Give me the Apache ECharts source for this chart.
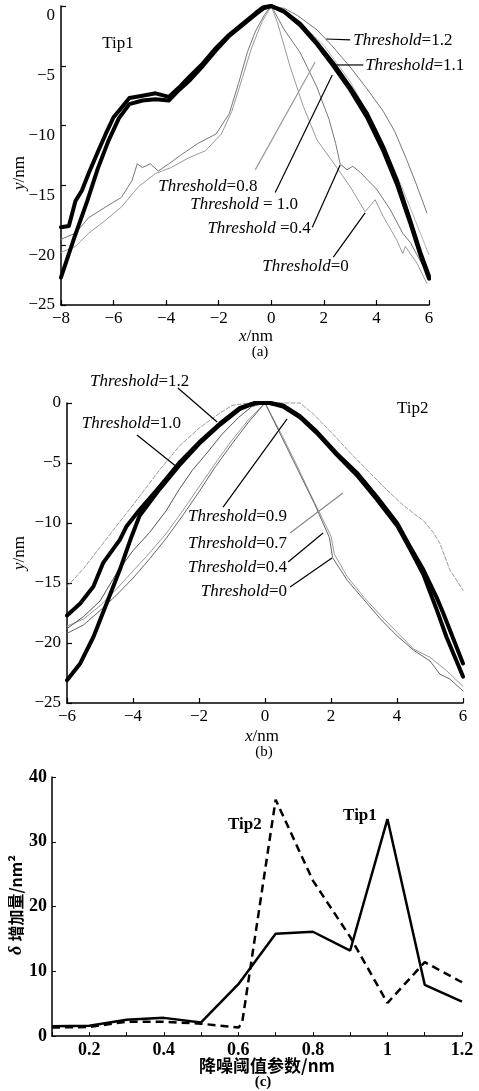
<!DOCTYPE html>
<html><head><meta charset="utf-8">
<script src="https://cdn.jsdelivr.net/npm/echarts@6/dist/echarts.min.js"></script>
<style>html,body{margin:0;padding:0;background:#fff}#c{width:479px;height:1091px}</style>
</head><body><div id="c"></div>
<script>
// ---------- Panel (a) Tip1 profiles ----------
const aThick12 = [[-8,-18.5],[-7.7,-18.4],[-7.45,-16.3],[-7.2,-15.4],[-6.95,-14.0],[-6.6,-12.2],[-6.3,-10.7],[-6.0,-9.3],[-5.7,-8.5],[-5.4,-7.7],[-4.9,-7.5],[-4.4,-7.3],[-3.9,-7.6],[-3.5,-6.8],[-3.15,-6.0],[-2.6,-4.8],[-2.1,-3.5],[-1.6,-2.4],[-1.1,-1.5],[-0.6,-0.6],[-0.3,-0.1],[0,0],[0.45,-0.4],[1.1,-1.5],[1.74,-3.1],[2.36,-4.8],[3.0,-6.8],[3.64,-9.0],[4.26,-11.8],[4.78,-14.6],[5.28,-17.9],[5.67,-20.6],[6.0,-22.6]];
const aThick11 = [[-8,-22.7],[-7.5,-19.4],[-7.0,-16.3],[-6.6,-13.6],[-6.2,-11.3],[-5.8,-9.4],[-5.4,-8.2],[-4.9,-7.9],[-4.4,-7.8],[-3.9,-7.9],[-3.5,-7.0],[-3.1,-6.2],[-2.6,-5.0],[-2.1,-3.7],[-1.6,-2.5],[-1.1,-1.6],[-0.6,-0.7],[-0.3,-0.2],[0,0],[0.5,-0.5],[1.1,-1.6],[1.74,-3.2],[2.36,-5.0],[3.0,-7.0],[3.64,-9.3],[4.26,-12.1],[4.78,-14.9],[5.28,-18.1],[5.67,-20.8],[6.0,-22.8]];
const aThin04 = [[-8,-19.5],[-7.45,-19.0],[-6.95,-17.7],[-6.3,-16.8],[-5.7,-16.0],[-5.3,-14.6],[-5.1,-13.2],[-4.9,-13.5],[-4.6,-13.2],[-4.3,-13.8],[-3.9,-13.2],[-3.4,-12.4],[-2.8,-11.5],[-2.1,-10.7],[-1.6,-9.0],[-1.25,-6.5],[-0.9,-3.8],[-0.6,-2.1],[-0.25,-0.7],[0,0],[0.5,-2.0],[1.1,-3.9],[1.74,-6.8],[2.2,-9.5],[2.45,-11.5],[2.62,-13.2],[2.88,-13.7],[3.1,-13.4],[3.38,-13.9],[4.0,-15.3],[4.52,-17.0],[5.0,-19.0],[5.3,-19.8],[5.54,-20.8],[6.0,-22.6]];
const aThin0 = [[-8,-20.6],[-7.45,-20.1],[-6.95,-19.0],[-6.3,-17.9],[-5.7,-16.8],[-5.05,-15.1],[-4.4,-14.0],[-3.8,-13.5],[-3.15,-12.7],[-2.5,-12.1],[-1.9,-10.7],[-1.5,-8.8],[-1.1,-6.0],[-0.75,-3.5],[-0.35,-1.3],[0,0],[0.25,-1.5],[0.72,-5.1],[1.22,-8.4],[1.74,-11.2],[2.36,-13.1],[3.0,-15.1],[3.57,-17.2],[3.95,-16.2],[4.26,-17.6],[4.78,-19.6],[5.0,-20.7],[5.1,-20.1],[5.54,-21.5],[5.92,-23.2]];
const aOuter12 = [[0,0],[0.5,-0.2],[1.0,-0.8],[1.74,-2.0],[2.3,-3.3],[3.0,-5.1],[3.6,-6.8],[4.26,-8.8],[4.7,-10.5],[5.16,-12.9],[5.5,-14.8],[5.92,-17.3]];
const aOuter11 = [[0,0],[1.0,-1.2],[2.0,-3.3],[3.0,-6.3],[4.0,-10.3],[5.0,-15.3],[5.6,-18.6],[6.0,-20.8]];

// ---------- Panel (b) Tip2 profiles ----------
const bThick10 = [[-6,-17.7],[-5.6,-16.7],[-5.2,-15.3],[-4.9,-13.3],[-4.4,-11.4],[-4.2,-10.3],[-3.8,-8.9],[-3.2,-7.0],[-2.6,-5.0],[-2.0,-3.3],[-1.36,-1.7],[-0.76,-0.4],[-0.3,0],[0.15,0],[0.55,-0.2],[1.06,-1.1],[1.57,-2.4],[2.17,-4.2],[2.78,-5.8],[3.38,-7.8],[4.0,-10.0],[4.4,-12.0],[4.8,-13.9],[5.2,-16.2],[5.4,-17.5],[5.7,-19.6],[6.0,-21.7]];
const bThick12 = [[-6,-23.1],[-5.6,-21.7],[-5.2,-19.5],[-4.8,-16.7],[-4.4,-13.9],[-4.04,-11.1],[-3.8,-9.4],[-3.2,-7.2],[-2.6,-5.2],[-2.0,-3.4],[-1.36,-1.8],[-0.76,-0.5],[-0.3,0],[0.15,0],[0.55,-0.3],[1.06,-1.2],[1.57,-2.5],[2.17,-4.3],[2.78,-6.0],[3.38,-8.0],[4.0,-10.2],[4.4,-12.2],[4.8,-14.3],[5.2,-17.2],[5.5,-19.5],[6.0,-22.8]];
const bThin09 = [[-6,-18.8],[-5.5,-17.8],[-5.0,-16.5],[-4.5,-14.2],[-4.0,-12.3],[-3.5,-10.8],[-3.0,-9.0],[-2.6,-7.2],[-2.2,-5.6],[-1.8,-4.3],[-1.3,-2.6],[-0.8,-1.2],[-0.4,-0.3],[0,0]];
const bThin04 = [[-6,-19.2],[-5.5,-18.5],[-5.0,-17.3],[-4.5,-16.0],[-4.0,-14.6],[-3.5,-13.0],[-3.0,-11.3],[-2.5,-9.4],[-2.0,-7.4],[-1.5,-5.3],[-1.0,-3.4],[-0.5,-1.6],[0,0],[0.5,-2.8],[1.0,-5.6],[1.5,-8.4],[1.95,-11.2],[2.05,-12.9],[2.5,-14.8],[3.0,-16.4],[3.5,-18.0],[4.0,-19.4],[4.5,-20.6],[5.0,-21.5],[5.3,-22.6],[5.6,-23.0],[6.0,-24.0]];
const bThin0 = [[-6,-18.6],[-5.5,-18.0],[-5.0,-16.9],[-4.5,-15.5],[-4.0,-14.0],[-3.5,-12.5],[-3.0,-10.9],[-2.5,-9.0],[-2.0,-7.0],[-1.5,-5.0],[-1.0,-3.1],[-0.5,-1.4],[0,0],[0.5,-2.6],[1.0,-5.4],[1.5,-8.3],[2.0,-11.1],[2.1,-12.6],[2.5,-14.5],[3.0,-16.2],[3.5,-17.7],[4.0,-19.1],[4.5,-20.5],[5.0,-21.2],[5.5,-22.3],[6.0,-23.6]];
const bOuter07 = [[-6,-15.3],[-5.5,-13.8],[-4.6,-10.6],[-4.0,-8.5],[-3.2,-5.6],[-2.6,-3.6],[-2.0,-2.1],[-1.4,-0.9],[-1.0,-0.2],[-0.5,0],[0,0],[1.06,0],[1.5,-1.0],[2.06,-2.6],[2.6,-4.2],[3.1,-5.6],[3.6,-7.0],[4.1,-8.3],[4.5,-9.2],[4.8,-9.8],[5.1,-10.8],[5.3,-11.7],[5.6,-13.9],[6.0,-15.6]];

// ---------- Panel (c) delta increase ----------
const cThreshTip1 = [0.1,0.2,0.3,0.4,0.5,0.6,0.7,0.8,0.9,1.0,1.1,1.2];
const cTip1 = [1.5,1.6,2.5,2.8,2.1,8.0,15.8,16.1,13.2,33.5,7.9,5.3];
const cThreshTip2 = [0.1,0.2,0.3,0.4,0.5,0.6,0.61,0.7,0.8,0.9,1.0,1.1,1.2];
const cTip2 = [1.3,1.4,2.2,2.2,1.9,1.3,2.0,36.5,24.0,15.3,5.1,11.4,8.3];

// ---------- Annotations (data coordinates) ----------
const aLabels = [
  {t:'Threshold', v:'=1.2', at:[3.12,-2.9], align:'left'},
  {t:'Threshold', v:'=1.1', at:[3.57,-5.0], align:'left'},
  {t:'Threshold', v:'=0.8', at:[-4.30,-15.1], align:'left'},
  {t:'Threshold', v:' = 1.0', at:[-3.08,-16.6], align:'left'},
  {t:'Threshold', v:' =0.4', at:[-2.43,-18.6], align:'left'},
  {t:'Threshold', v:'=0', at:[-0.34,-21.8], align:'left'}
];
const aLeaders = [
  [[2.09,-2.76],[3.0,-2.84],'#000'],
  [[2.47,-4.93],[3.50,-4.93],'#000'],
  [[-0.61,-13.7],[1.67,-4.68],'#999'],
  [[0.15,-15.6],[2.32,-5.77],'#000'],
  [[1.56,-18.5],[2.62,-13.3],'#000'],
  [[2.36,-21.0],[3.57,-17.3],'#000']
];
const bLabels = [
  {t:'Threshold', v:'=1.2', at:[-5.30,1.75], align:'left'},
  {t:'Threshold', v:'=1.0', at:[-5.55,-1.67], align:'left'},
  {t:'Threshold', v:'=0.9', at:[0.67,-9.5], align:'right'},
  {t:'Threshold', v:'=0.7', at:[0.67,-11.67], align:'right'},
  {t:'Threshold', v:'=0.4', at:[0.67,-13.75], align:'right'},
  {t:'Threshold', v:'=0', at:[0.67,-15.75], align:'right'}
];
const bLeaders = [
  [[-2.64,1.25],[-1.45,-1.58],'#000'],
  [[-3.88,-2.67],[-2.67,-5.33],'#000'],
  [[-1.27,-8.67],[0.67,-1.33],'#000'],
  [[0.76,-10.83],[2.36,-7.5],'#888'],
  [[0.70,-13.25],[1.76,-10.83],'#000'],
  [[0.76,-15.33],[2.03,-12.92],'#000']
];
const tipA = {text:'Tip1', at:[-6.43,-3.1]};
const tipB = {text:'Tip2', at:[4.0,-0.42]};
const cTips = [{text:'Tip2', at:[0.572,32.6]},{text:'Tip1', at:[0.881,34.1]}];

const SERIF = 'Liberation Serif';
const minus = v => String(v).replace('-', '\u2212');

function profAxisX(idx, min, max){
  return {gridIndex: idx, type:'value', min, max, interval:2,
    axisLine:{onZero:false, lineStyle:{color:'#000', width:1.5}},
    axisTick:{inside:true, length:5, lineStyle:{color:'#000', width:1.2}},
    splitLine:{show:false},
    axisLabel:{color:'#000', fontFamily:SERIF, fontSize:17, margin:5, formatter:minus}};
}
function profAxisY(idx, shifted){
  return {gridIndex: idx, type:'value', min:-25, max:0, interval:5,
    axisLine:{show:true, onZero:false, lineStyle:{color:'#000', width:1.5}},
    axisTick:{show:true, inside:true, length:5, lineStyle:{color:'#000', width:1.2}},
    splitLine:{show:false},
    axisLabel:{color:'#000', fontFamily:SERIF, fontSize:17, margin:6,
      formatter: shifted ? (v => (v === -25 ? '{p|' : '{s|') + minus(v) + '}') : minus,
      rich: shifted ? {
        s:{fontFamily:SERIF, fontSize:17, color:'#000', padding:[20,0,0,0]},
        p:{fontFamily:SERIF, fontSize:17, color:'#000'}} : undefined}};
}
function line(idx, data, color, width, type){
  return {type:'line', xAxisIndex:idx, yAxisIndex:idx, data, showSymbol:false, symbol:'none',
    silent:true, animation:false, clip:false,
    lineStyle:{color, width, type: type || 'solid', join:'round', cap:'round'}};
}

const option = {
  backgroundColor:'#fff',
  animation:false,
  grid:[
    {left:61, top:6, width:368, height:299},
    {left:67, top:403, width:396, height:300},
    {left:52, top:777, width:410, height:259}
  ],
  xAxis:[
    profAxisX(0,-8,6),
    profAxisX(1,-6,6),
    {gridIndex:2, type:'value', min:0.1, max:1.2, interval:0.1,
      axisLine:{onZero:false, lineStyle:{color:'#000', width:1.5}},
      axisTick:{inside:true, length:4, lineStyle:{color:'#000'},
        interval:(i,v)=>Math.round(v*10)%2===0},
      splitLine:{show:false},
      axisLabel:{color:'#000', fontFamily:SERIF, fontSize:18, fontWeight:'bold', margin:5,
        formatter:v=>{const k=Math.round(v*10); return k%2===0 ? String(k/10) : '';}}}
  ],
  yAxis:[
    profAxisY(0,true),
    profAxisY(1,false),
    {gridIndex:2, type:'value', min:0, max:40, interval:10,
      axisLine:{show:true, onZero:false, lineStyle:{color:'#000', width:1.5}},
      axisTick:{show:true, inside:true, length:4, lineStyle:{color:'#000'}},
      splitLine:{show:false},
      axisLabel:{color:'#000', fontFamily:SERIF, fontSize:18, fontWeight:'bold', margin:5}}
  ],
  series:[
    line(0, aOuter11, '#aaa', 1, 'dotted'),
    line(0, aOuter12, '#777', 1),
    line(0, aThin04, '#777', 1),
    line(0, aThin0, '#999', 1),
    line(0, aThick11, '#000', 4),
    line(0, aThick12, '#000', 4),
    line(1, bOuter07, '#999', 1, 'dashed'),
    line(1, bThin0, '#999', 1),
    line(1, bThin04, '#666', 1),
    line(1, bThin09, '#555', 1),
    line(1, bThick12, '#000', 4),
    line(1, bThick10, '#000', 4),
    {type:'line', xAxisIndex:2, yAxisIndex:2, data:cThreshTip2.map((x,i)=>[x,cTip2[i]]),
      showSymbol:false, symbol:'none', animation:false,
      lineStyle:{color:'#000', width:2.5, type:[8,5]}},
    {type:'line', xAxisIndex:2, yAxisIndex:2, data:cThreshTip1.map((x,i)=>[x,cTip1[i]]),
      showSymbol:false, symbol:'none', animation:false,
      lineStyle:{color:'#000', width:2.5}}
  ]
};

const chart = echarts.init(document.getElementById('c'), null, {renderer:'canvas', width:479, height:1091});
chart.setOption(option);

const rich = {
  i:{fontFamily:SERIF, fontStyle:'italic', fontSize:17, fill:'#000'},
  n:{fontFamily:SERIF, fontSize:17, fill:'#000'}
};
const g = [];
function addLabels(idx, labels){
  labels.forEach(L=>{
    const p = chart.convertToPixel({gridIndex:idx}, L.at);
    g.push({type:'text', x:p[0], y:p[1], z:50, silent:true,
      style:{text:'{i|'+L.t+'}{n|'+L.v+'}', rich, align:L.align, verticalAlign:'middle'}});
  });
}
function addLeaders(idx, leaders){
  leaders.forEach(Ld=>{
    const p1 = chart.convertToPixel({gridIndex:idx}, Ld[0]);
    const p2 = chart.convertToPixel({gridIndex:idx}, Ld[1]);
    g.push({type:'line', z:50, silent:true, shape:{x1:p1[0], y1:p1[1], x2:p2[0], y2:p2[1]},
      style:{stroke:Ld[2], lineWidth:1.2}});
  });
}
function addTip(idx, tip, bold){
  const p = chart.convertToPixel({gridIndex:idx}, tip.at);
  g.push({type:'text', x:p[0], y:p[1], z:50, silent:true,
    style:{text:tip.text, fontFamily:SERIF, fontSize:17, fontWeight:bold?'bold':'normal', fill:'#000', align:'left', verticalAlign:'middle'}});
}
addLabels(0, aLabels); addLeaders(0, aLeaders); addTip(0, tipA, false);
addLabels(1, bLabels); addLeaders(1, bLeaders); addTip(1, tipB, false);
cTips.forEach(t=>addTip(2, t, true));

function caption(x, y, text, opts){
  g.push(Object.assign({type:'text', x, y, z:50, silent:true,
    style:Object.assign({text, fontFamily:SERIF, fontSize:17, fill:'#000', align:'center', verticalAlign:'middle'}, opts && opts.style)},
    opts && opts.el));
}
// axis titles & captions
caption(20, 173, '{i|y}{n|/nm}', {el:{rotation:Math.PI/2}, style:{rich}});
caption(256, 337, '{i|x}{n|/nm}', {style:{rich}});
caption(260, 352, '(a)', {style:{fontSize:15}});
caption(20, 553, '{i|y}{n|/nm}', {el:{rotation:Math.PI/2}, style:{rich}});
caption(262, 737, '{i|x}{n|/nm}', {style:{rich}});
caption(264, 752, '(b)', {style:{fontSize:15}});
caption(16, 905, '{d|δ} {c|增加量/nm²}', {el:{rotation:Math.PI/2}, style:{rich:{
  d:{fontFamily:SERIF, fontStyle:'italic', fontWeight:'bold', fontSize:18, fill:'#000'},
  c:{fontFamily:'Noto Sans CJK SC', fontWeight:'bold', fontSize:16, fill:'#000'}}}});
caption(267, 1066, '降噪阈值参数/nm', {style:{fontFamily:'Noto Sans CJK SC', fontWeight:'bold', fontSize:17}});
caption(263, 1082, '(c)', {style:{fontSize:15, fontWeight:'bold'}});

chart.setOption({graphic:g});
</script></body></html>
